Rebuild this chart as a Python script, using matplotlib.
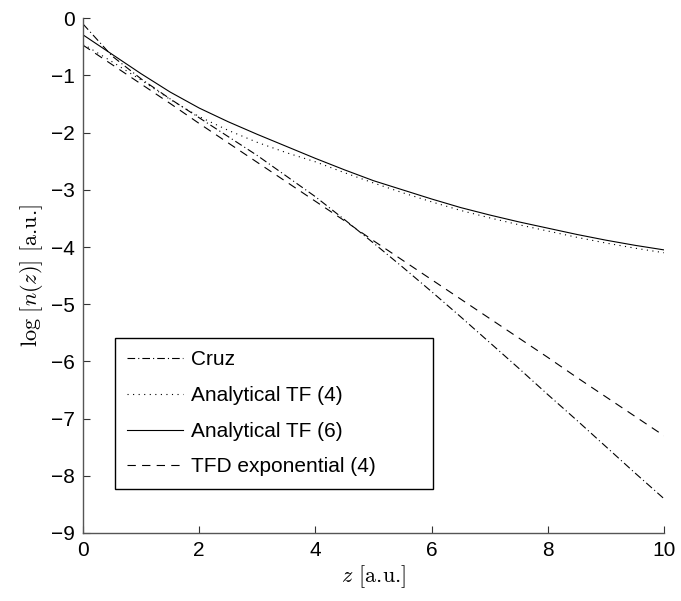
import numpy as np
import matplotlib
matplotlib.use("Agg")
import matplotlib.pyplot as plt

plt.rcParams['font.family'] = ['Liberation Sans', 'DejaVu Sans']
plt.rcParams['mathtext.fontset'] = 'cm'
plt.rcParams['lines.scale_dashes'] = False

z = [0, 0.5, 1, 1.5, 2, 2.5, 3, 3.5, 4, 4.5, 5, 5.5, 6, 6.5, 7, 7.5, 8, 8.5, 9, 9.5, 10]

cruz = [-0.10, -0.66, -1.06, -1.41, -1.74, -2.07, -2.40, -2.76, -3.12, -3.52, -3.93,
        -4.35, -4.78, -5.22, -5.67, -6.12, -6.58, -7.03, -7.49, -7.95, -8.40]
tf4 = [-0.45, -0.76, -1.08, -1.42, -1.72, -1.96, -2.17, -2.35, -2.51, -2.70, -2.88,
       -3.05, -3.21, -3.36, -3.49, -3.61, -3.72, -3.83, -3.93, -4.02, -4.10]
tf6 = [-0.29, -0.63, -0.97, -1.29, -1.57, -1.81, -2.03, -2.24, -2.45, -2.65, -2.84,
       -3.00, -3.16, -3.31, -3.44, -3.56, -3.67, -3.78, -3.88, -3.97, -4.05]
tfd = [-0.47, -0.81, -1.15, -1.49, -1.84, -2.18, -2.52, -2.86, -3.20, -3.54, -3.89,
       -4.23, -4.57, -4.91, -5.25, -5.59, -5.93, -6.28, -6.62, -6.96, -7.30]

labels = ['Cruz', 'Analytical TF (4)', 'Analytical TF (6)', 'TFD exponential (4)']
xticks = [0, 2, 4, 6, 8, 10]
yticks = [0, -1, -2, -3, -4, -5, -6, -7, -8, -9]

fig = plt.figure(figsize=(6.81, 6.01), dpi=100)
ax = fig.add_axes([0.1219, 0.1132, 0.975 - 0.1219, 0.9696 - 0.1132])

lw = 0.8
l1, = ax.plot(z, cruz, color='black', lw=lw, label=labels[0])
l1.set_dashes((5.5, 2.2, 0.8, 2.2))
l2, = ax.plot(z, tf4, color='black', lw=lw, label=labels[1])
l2.set_dashes((0.8, 3.2))
l3, = ax.plot(z, tf6, color='black', lw=lw, label=labels[2])
l4, = ax.plot(z, tfd, color='black', lw=lw, label=labels[3])
l4.set_dashes((6, 4.5))

ax.set_xlim(0, 10)
ax.set_ylim(-9, 0)
ax.set_xticks(xticks)
ax.set_yticks(yticks)
ax.set_yticklabels(['0' if t == 0 else '\u2212%d' % abs(t) for t in yticks])
ax.tick_params(direction='in', length=5, width=0.8, labelsize=15, colors='#333333',
               labelcolor='black', pad=6)
for s in ['top', 'right']:
    ax.spines[s].set_visible(False)
for s in ['left', 'bottom']:
    ax.spines[s].set_color('#555555')
    ax.spines[s].set_linewidth(1.0)

ax.set_xlabel(r'$z$ [a.u.]', fontsize=16, labelpad=2, fontfamily='cmr10')
ax.set_ylabel(r'$\log\,[n(z)]$ [a.u.]', fontsize=16, labelpad=4, fontfamily='cmr10')

leg = ax.legend(loc='lower left', bbox_to_anchor=(0.055, 0.0855, 0.547, 0.30),
                mode='expand', borderaxespad=0,
                fontsize=15, fancybox=False, edgecolor='black', framealpha=1,
                handlelength=2.65, handletextpad=0.38, labelspacing=0.8,
                borderpad=0.6)
leg.get_frame().set_linewidth(1.0)

fig.savefig('out.png', dpi=100)
